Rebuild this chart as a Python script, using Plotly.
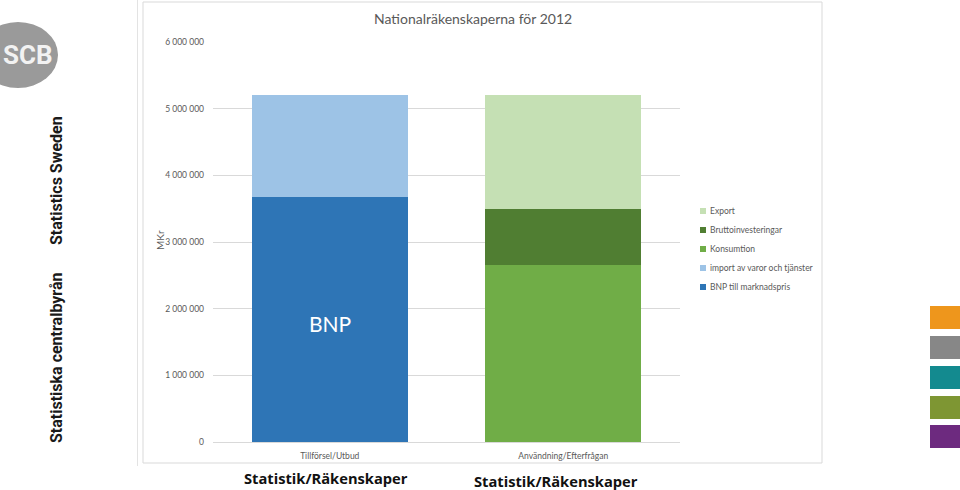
import plotly.graph_objects as go

# ---- data ----
categories = ["Tillförsel/Utbud", "Användning/Efterfrågan"]
series_names = ["BNP till marknadspris", "import av varor och tjänster",
                "Konsumtion", "Bruttoinvesteringar", "Export"]
series_category = [0, 0, 1, 1, 1]
series_values = [3680000, 1525000, 2655000, 840000, 1710000]
series_colors = ["#2E75B6", "#9DC3E6", "#70AD47", "#507E32", "#C5E0B4"]
tick_values = [0, 1000000, 2000000, 3000000, 4000000, 5000000, 6000000]
tick_labels = ["0", "1 000 000", "2 000 000", "3 000 000", "4 000 000", "5 000 000", "6 000 000"]

W, H = 960, 490
L, R, T, B = 213, 680, 42, 442


def px(x):
    return (x - L) / (R - L)


def py(y):
    return (B - y) / (B - T)


fig = go.Figure()
for name, ci, v, c in zip(series_names, series_category, series_values, series_colors):
    fig.add_trace(go.Bar(x=[categories[ci]], y=[v], name=name, marker_color=c,
                         marker_line_width=0))

gray = "#595959"
fnt = "Lato, Open Sans, sans-serif"

fig.update_layout(
    width=W, height=H,
    margin=dict(l=L, r=W - R, t=T, b=H - B, pad=0),
    paper_bgcolor="white", plot_bgcolor="white",
    barmode="stack", bargap=0.33,
    showlegend=False,
    font=dict(family=fnt, color=gray),
    xaxis=dict(type="category", categoryorder="array", categoryarray=categories,
               showgrid=False, showline=True, linecolor="#D9D9D9", linewidth=1,
               ticks="", ticklabelstandoff=6, tickfont=dict(size=8.5, color=gray, family=fnt)),
    yaxis=dict(range=[0, 6000000], tickvals=tick_values, ticktext=tick_labels,
               showgrid=True, gridcolor="#D9D9D9", gridwidth=1, zeroline=False,
               showline=False, ticks="", ticklabelstandoff=8,
               tickfont=dict(size=8.5, color=gray, family=fnt)),
)

shapes = []
# chart border
shapes.append(dict(type="rect", xref="paper", yref="paper", x0=px(143), x1=px(822),
                   y0=py(463), y1=py(2), line=dict(color="#D9D9D9", width=1)))
# divider line
shapes.append(dict(type="line", xref="paper", yref="paper", x0=px(137.5), x1=px(137.5),
                   y0=py(466), y1=py(0), line=dict(color="#E3E3E3", width=1)))
# logo ellipse
shapes.append(dict(type="circle", xref="paper", yref="paper", x0=px(-22), x1=px(58),
                   y0=py(88), y1=py(22), fillcolor="#9A9A9A", line=dict(width=0)))
# right squares
sq_colors = ["#EE961C", "#878787", "#138A8F", "#7E9633", "#6D2A7F"]
sq_tops = [306, 336, 366, 396, 425]
for c, t in zip(sq_colors, sq_tops):
    shapes.append(dict(type="rect", xref="paper", yref="paper", x0=px(930), x1=px(961),
                       y0=py(t + 23), y1=py(t), fillcolor=c, line=dict(width=0)))

ann = []
# custom legend (reversed order, as in the reference)
leg_y = [211, 230, 249, 268, 287]
for i, (name, c) in enumerate(zip(series_names[::-1], series_colors[::-1])):
    yc = leg_y[i]
    shapes.append(dict(type="rect", xref="paper", yref="paper", x0=px(700), x1=px(706),
                       y0=py(yc + 3), y1=py(yc - 3), fillcolor=c, line=dict(width=0)))
    ann.append(dict(text=name, x=px(708), y=py(yc), xref="paper", yref="paper",
                    xanchor="left", yanchor="middle", showarrow=False,
                    font=dict(size=8.5, color=gray, family=fnt)))
fig.update_layout(shapes=shapes)


def add(text, x, y, size, color, family, angle=0):
    ann.append(dict(text=text, x=px(x), y=py(y), xref="paper", yref="paper",
                    xanchor="center", yanchor="middle", textangle=angle, showarrow=False,
                    font=dict(size=size, color=color, family=family)))


add("Nationalräkenskaperna för 2012", 473, 19, 14, gray, fnt)
add("MKr", 160, 240, 10, gray, fnt, -90)
ann.append(dict(text="BNP", x=categories[0], y=(B - 323) / (B - T) * 6000000, xref="x", yref="y",
                xanchor="center", yanchor="middle",
                showarrow=False, font=dict(size=21, color="white", family=fnt)))
add("<b>Statistik/Räkenskaper</b>", 326, 478, 14.7, "#111111", "Open Sans, sans-serif")
add("<b>Statistik/Räkenskaper</b>", 556, 481, 14.7, "#111111", "Open Sans, sans-serif")
narrow = "Roboto, sans-serif"
add("<b>Statistics Sweden</b>", 56, 181, 16, "#1A1A1A", narrow, -90)
add("<b>Statistiska centralbyrån</b>", 56, 358, 16, "#1A1A1A", narrow, -90)
add("<b>SCB</b>", 28, 55, 26, "#F2F2F2", narrow)
fig.update_layout(annotations=ann)

fig.write_html("out.html")
